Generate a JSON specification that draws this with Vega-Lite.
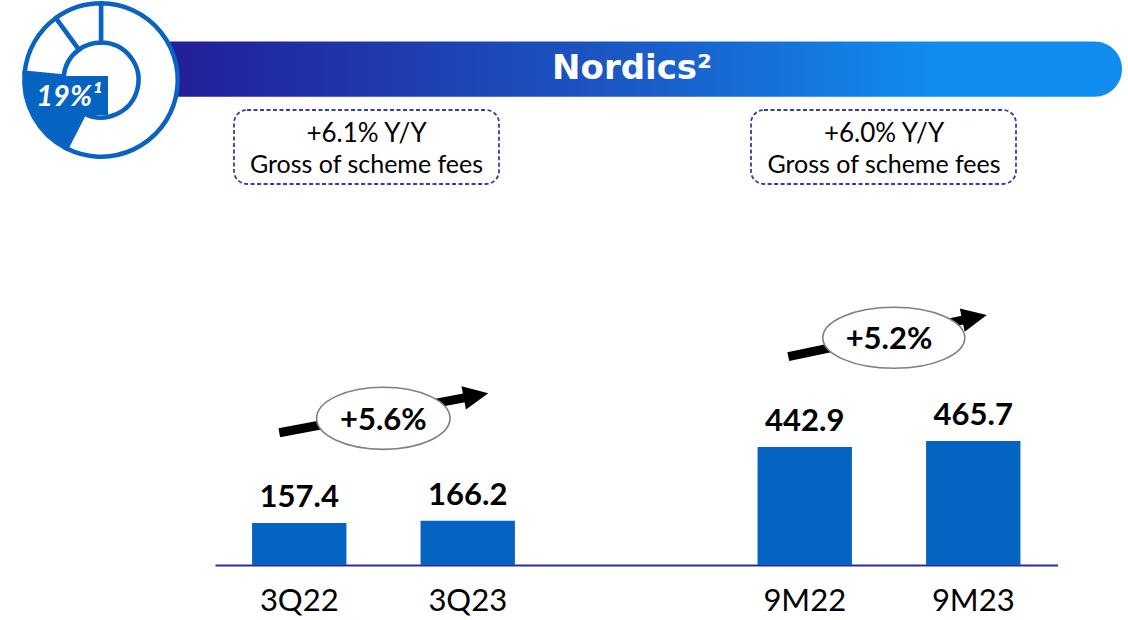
{
  "$schema": "https://vega.github.io/schema/vega-lite/v6.json",
  "width": 1128,
  "height": 565,
  "autosize": {"type": "none"},
  "padding": {"left": 0, "top": 0, "right": 0, "bottom": 55},
  "background": "white",
  "config": {"view": {"stroke": null}, "text": {"font": "Lato"}},
  "datasets": {
    "revenue": [
      {"period": "3Q22", "value": 157.4},
      {"period": "3Q23", "value": 166.2},
      {"period": "9M22", "value": 442.9},
      {"period": "9M23", "value": 465.7}
    ],
    "share": [
      {"segment": "Other A", "share": 57.5, "idx": 1},
      {"segment": "Nordics", "share": 19, "idx": 2},
      {"segment": "Other B", "share": 13.5, "idx": 3},
      {"segment": "Other C", "share": 10, "idx": 4}
    ]
  },
  "resolve": {"scale": {"x": "independent"}},
  "layer": [
    {
      "data": {"values": [{}]},
      "mark": {"type": "rect", "cornerRadiusTopRight": 27.5, "cornerRadiusBottomRight": 27.5,
        "fill": {"gradient": "linear", "x1": 0, "y1": 0, "x2": 1, "y2": 0,
          "stops": [{"offset": 0, "color": "#221e98"}, {"offset": 0.45, "color": "#1c55c2"}, {"offset": 0.8, "color": "#108bf0"}, {"offset": 1, "color": "#108cf1"}]}},
      "encoding": {
        "x": {"datum": 170, "type": "quantitative", "scale": {"domain": [0, 1128], "nice": false, "zero": false}, "axis": null},
        "x2": {"datum": 1122},
        "y": {"datum": 1964.3, "type": "quantitative", "scale": {"domain": [0, 2120], "nice": false, "zero": false}, "axis": null},
        "y2": {"datum": 1756.8}
      }
    },
    {
      "data": {"values": [{"title": "Nordics²"}]},
      "mark": {"type": "text", "font": "DejaVu Sans", "fontWeight": "bold", "fontSize": 34, "color": "white", "align": "center", "baseline": "alphabetic"},
      "encoding": {
        "x": {"datum": 632, "type": "quantitative", "scale": {"domain": [0, 1128], "nice": false, "zero": false}, "axis": null},
        "y": {"datum": 1822.5, "type": "quantitative", "scale": {"domain": [0, 2120], "nice": false, "zero": false}, "axis": null},
        "text": {"field": "title"}
      }
    },
    {
      "data": {"name": "share"},
      "mark": {"type": "arc", "radius": 76.7, "radius2": 37.5, "stroke": "#0a63c2", "strokeWidth": 4.5},
      "encoding": {
        "x": {"datum": 101, "type": "quantitative", "scale": {"domain": [0, 1128], "nice": false, "zero": false}, "axis": null},
        "y": {"datum": 1819.8, "type": "quantitative", "scale": {"domain": [0, 2120], "nice": false, "zero": false}, "axis": null},
        "theta": {"field": "share", "type": "quantitative", "stack": true},
        "order": {"field": "idx"},
        "color": {"field": "segment", "type": "nominal", "scale": {"domain": ["Other A", "Nordics", "Other B", "Other C"], "range": ["#ffffff", "#0563c1", "#ffffff", "#ffffff"]}, "legend": null}
      }
    },
    {
      "data": {"values": [{}]},
      "mark": {"type": "rect", "fill": "#0563c1"},
      "encoding": {
        "x": {"datum": 35, "type": "quantitative", "scale": {"domain": [0, 1128], "nice": false, "zero": false}, "axis": null},
        "x2": {"datum": 108},
        "y": {"datum": 1834.8, "type": "quantitative", "scale": {"domain": [0, 2120], "nice": false, "zero": false}, "axis": null},
        "y2": {"datum": 1688.5}
      }
    },
    {
      "data": {"values": [{"label": "19%¹"}]},
      "mark": {"type": "text", "fontWeight": "bold", "fontStyle": "italic", "fontSize": 29, "color": "white", "align": "center", "baseline": "alphabetic"},
      "encoding": {
        "x": {"datum": 69, "type": "quantitative", "scale": {"domain": [0, 1128], "nice": false, "zero": false}, "axis": null},
        "y": {"datum": 1722.3, "type": "quantitative", "scale": {"domain": [0, 2120], "nice": false, "zero": false}, "axis": null},
        "text": {"field": "label"}
      }
    },
    {
      "data": {"values": [{}]},
      "mark": {"type": "rect", "fill": "white", "stroke": "#3b3ba8", "strokeWidth": 1.8, "strokeDash": [4, 2.5], "cornerRadius": 13},
      "encoding": {
        "x": {"datum": 234, "type": "quantitative", "scale": {"domain": [0, 1128], "nice": false, "zero": false}, "axis": null},
        "x2": {"datum": 499},
        "y": {"datum": 1707.3, "type": "quantitative", "scale": {"domain": [0, 2120], "nice": false, "zero": false}, "axis": null},
        "y2": {"datum": 1429.6}
      }
    },
    {
      "data": {"values": [{}]},
      "mark": {"type": "rect", "fill": "white", "stroke": "#3b3ba8", "strokeWidth": 1.8, "strokeDash": [4, 2.5], "cornerRadius": 13},
      "encoding": {
        "x": {"datum": 751, "type": "quantitative", "scale": {"domain": [0, 1128], "nice": false, "zero": false}, "axis": null},
        "x2": {"datum": 1016},
        "y": {"datum": 1707.3, "type": "quantitative", "scale": {"domain": [0, 2120], "nice": false, "zero": false}, "axis": null},
        "y2": {"datum": 1429.6}
      }
    },
    {
      "data": {"values": [{"t": "+6.1% Y/Y"}]},
      "mark": {"type": "text", "fontSize": 26, "color": "black", "align": "center", "baseline": "alphabetic"},
      "encoding": {
        "x": {"datum": 366.5, "type": "quantitative", "scale": {"domain": [0, 1128], "nice": false, "zero": false}, "axis": null},
        "y": {"datum": 1587.2, "type": "quantitative", "scale": {"domain": [0, 2120], "nice": false, "zero": false}, "axis": null},
        "text": {"field": "t"}
      }
    },
    {
      "data": {"values": [{"t": "Gross of scheme fees"}]},
      "mark": {"type": "text", "fontSize": 25, "color": "black", "align": "center", "baseline": "alphabetic"},
      "encoding": {
        "x": {"datum": 366.5, "type": "quantitative", "scale": {"domain": [0, 1128], "nice": false, "zero": false}, "axis": null},
        "y": {"datum": 1470.9, "type": "quantitative", "scale": {"domain": [0, 2120], "nice": false, "zero": false}, "axis": null},
        "text": {"field": "t"}
      }
    },
    {
      "data": {"values": [{"t": "+6.0% Y/Y"}]},
      "mark": {"type": "text", "fontSize": 26, "color": "black", "align": "center", "baseline": "alphabetic"},
      "encoding": {
        "x": {"datum": 884, "type": "quantitative", "scale": {"domain": [0, 1128], "nice": false, "zero": false}, "axis": null},
        "y": {"datum": 1587.2, "type": "quantitative", "scale": {"domain": [0, 2120], "nice": false, "zero": false}, "axis": null},
        "text": {"field": "t"}
      }
    },
    {
      "data": {"values": [{"t": "Gross of scheme fees"}]},
      "mark": {"type": "text", "fontSize": 25, "color": "black", "align": "center", "baseline": "alphabetic"},
      "encoding": {
        "x": {"datum": 884, "type": "quantitative", "scale": {"domain": [0, 1128], "nice": false, "zero": false}, "axis": null},
        "y": {"datum": 1470.9, "type": "quantitative", "scale": {"domain": [0, 2120], "nice": false, "zero": false}, "axis": null},
        "text": {"field": "t"}
      }
    },
    {
      "data": {"name": "revenue"},
      "mark": {"type": "bar", "color": "#0563c1"},
      "encoding": {
        "x": {"field": "period", "type": "nominal", "sort": null,
          "scale": {"domain": ["3Q22", "3Q23", " ", "9M22", "9M23"], "range": [215, 1057.5], "paddingInner": 0.44, "paddingOuter": 0.22},
          "axis": {"title": null, "labelAngle": 0, "ticks": false, "tickSize": 0, "domainColor": "#2d2d9e", "domainWidth": 2,
            "labelFont": "Lato", "labelFontSize": 31, "labelColor": "#000000", "labelPadding": 45, "labelBaseline": "alphabetic", "grid": false}},
        "y": {"field": "value", "type": "quantitative", "scale": {"domain": [0, 2120], "nice": false, "zero": false}, "axis": null}
      }
    },
    {
      "data": {"name": "revenue"},
      "mark": {"type": "text", "fontWeight": "bold", "fontSize": 31, "color": "black", "align": "center", "baseline": "alphabetic", "dy": -16},
      "encoding": {
        "x": {"field": "period", "type": "nominal", "sort": null,
          "scale": {"domain": ["3Q22", "3Q23", " ", "9M22", "9M23"], "range": [215, 1057.5], "paddingInner": 0.44, "paddingOuter": 0.22},
          "axis": null},
        "y": {"field": "value", "type": "quantitative", "scale": {"domain": [0, 2120], "nice": false, "zero": false}, "axis": null},
        "text": {"field": "value", "type": "quantitative", "format": ".1f"}
      }
    },
    {
      "data": {"values": [{}]},
      "mark": {"type": "rule", "color": "black", "strokeWidth": 9},
      "encoding": {
        "x": {"datum": 279.3, "type": "quantitative", "scale": {"domain": [0, 1128], "nice": false, "zero": false}, "axis": null},
        "x2": {"datum": 476},
        "y": {"datum": 496.4, "type": "quantitative", "scale": {"domain": [0, 2120], "nice": false, "zero": false}, "axis": null},
        "y2": {"datum": 635.6}
      }
    },
    {
      "data": {"values": [{}]},
      "mark": {"type": "rule", "color": "black", "strokeWidth": 9},
      "encoding": {
        "x": {"datum": 788.3, "type": "quantitative", "scale": {"domain": [0, 1128], "nice": false, "zero": false}, "axis": null},
        "x2": {"datum": 974.5},
        "y": {"datum": 781.6, "type": "quantitative", "scale": {"domain": [0, 2120], "nice": false, "zero": false}, "axis": null},
        "y2": {"datum": 928.3}
      }
    },
    {
      "data": {"values": [{}]},
      "mark": {"type": "point", "shape": "M1,0L-1,-0.95L-1,0.95Z", "size": 625, "angle": -10.7, "filled": true, "fill": "black", "opacity": 1, "strokeWidth": 0},
      "encoding": {
        "x": {"datum": 476, "type": "quantitative", "scale": {"domain": [0, 1128], "nice": false, "zero": false}, "axis": null},
        "y": {"datum": 635.6, "type": "quantitative", "scale": {"domain": [0, 2120], "nice": false, "zero": false}, "axis": null}
      }
    },
    {
      "data": {"values": [{}]},
      "mark": {"type": "point", "shape": "M1,0L-1,-0.95L-1,0.95Z", "size": 625, "angle": -11.9, "filled": true, "fill": "black", "opacity": 1, "strokeWidth": 0},
      "encoding": {
        "x": {"datum": 974.5, "type": "quantitative", "scale": {"domain": [0, 1128], "nice": false, "zero": false}, "axis": null},
        "y": {"datum": 928.3, "type": "quantitative", "scale": {"domain": [0, 2120], "nice": false, "zero": false}, "axis": null}
      }
    },
    {
      "data": {"values": [{}]},
      "mark": {"type": "point", "shape": "M-1,0C-1,-0.2568,-0.5523,-0.465,0,-0.465C0.5523,-0.465,1,-0.2568,1,0C1,0.2568,0.5523,0.465,0,0.465C-0.5523,0.465,-1,0.2568,-1,0Z", "size": 17796, "filled": true, "fill": "white", "stroke": "#7f7f7f", "strokeWidth": 1.6, "opacity": 1},
      "encoding": {
        "x": {"datum": 383.3, "type": "quantitative", "scale": {"domain": [0, 1128], "nice": false, "zero": false}, "axis": null},
        "y": {"datum": 550.4, "type": "quantitative", "scale": {"domain": [0, 2120], "nice": false, "zero": false}, "axis": null}
      }
    },
    {
      "data": {"values": [{}]},
      "mark": {"type": "point", "shape": "M-1,0C-1,-0.2373,-0.5523,-0.4296,0,-0.4296C0.5523,-0.4296,1,-0.2373,1,0C1,0.2373,0.5523,0.4296,0,0.4296C-0.5523,0.4296,-1,0.2373,-1,0Z", "size": 20164, "filled": true, "fill": "white", "stroke": "#7f7f7f", "strokeWidth": 1.6, "opacity": 1},
      "encoding": {
        "x": {"datum": 893.8, "type": "quantitative", "scale": {"domain": [0, 1128], "nice": false, "zero": false}, "axis": null},
        "y": {"datum": 852.5, "type": "quantitative", "scale": {"domain": [0, 2120], "nice": false, "zero": false}, "axis": null}
      }
    },
    {
      "data": {"values": [{"growth": "+5.6%"}]},
      "mark": {"type": "text", "fontWeight": "bold", "fontSize": 31, "color": "black", "align": "center", "baseline": "alphabetic"},
      "encoding": {
        "x": {"datum": 383.3, "type": "quantitative", "scale": {"domain": [0, 1128], "nice": false, "zero": false}, "axis": null},
        "y": {"datum": 506.5, "type": "quantitative", "scale": {"domain": [0, 2120], "nice": false, "zero": false}, "axis": null},
        "text": {"field": "growth"}
      }
    },
    {
      "data": {"values": [{"growth": "+5.2%"}]},
      "mark": {"type": "text", "fontWeight": "bold", "fontSize": 31, "color": "black", "align": "center", "baseline": "alphabetic"},
      "encoding": {
        "x": {"datum": 889, "type": "quantitative", "scale": {"domain": [0, 1128], "nice": false, "zero": false}, "axis": null},
        "y": {"datum": 809.3, "type": "quantitative", "scale": {"domain": [0, 2120], "nice": false, "zero": false}, "axis": null},
        "text": {"field": "growth"}
      }
    }
  ]
}
